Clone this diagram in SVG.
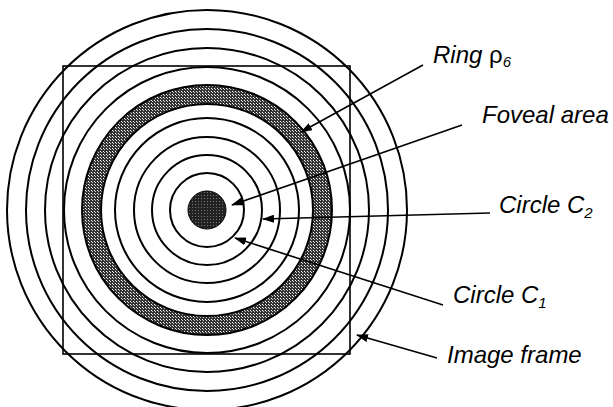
<svg xmlns="http://www.w3.org/2000/svg" width="613" height="407" viewBox="0 0 613 407">
<style>
.ring{fill:none;stroke:#000;stroke-width:2}
.frame{fill:none;stroke:#000;stroke-width:1.6}
.conn{stroke:#000;stroke-width:1.6;fill:none;marker-end:url(#ah)}
.lbl{font-family:"Liberation Sans",Arial,sans-serif;font-style:italic;font-size:24px;fill:#000}
.sub{font-size:15px}
.sym{font-style:normal}
</style>
<defs>
<pattern id="dots" width="3" height="3" patternUnits="userSpaceOnUse">
<rect width="3" height="3" fill="#333"/>
<rect x="1" y="1" width="1" height="1" fill="#fff"/>
<rect x="2" y="2" width="1" height="1" fill="#ccc"/>
</pattern>
<pattern id="dark" width="3" height="3" patternUnits="userSpaceOnUse">
<rect width="3" height="3" fill="#222"/>
<rect width="1" height="1" fill="#777"/>
</pattern>
<marker id="ah" markerWidth="12" markerHeight="8" refX="11" refY="4" orient="auto" markerUnits="userSpaceOnUse">
<path d="M0,0 L12,4 L0,8 Z" fill="#000"/>
</marker>
</defs>
<g id="target">
<circle cx="207" cy="210" r="115.5" fill="none" stroke="url(#dots)" stroke-width="19"/>
<circle cx="207" cy="210" r="19" fill="url(#dark)" stroke="#000" stroke-width="1"/>
<circle class="ring" cx="207" cy="210" r="37"/>
<circle class="ring" cx="207" cy="210" r="55"/>
<circle class="ring" cx="207" cy="210" r="73"/>
<circle class="ring" cx="207" cy="210" r="92"/>
<circle class="ring" cx="207" cy="210" r="106"/>
<circle class="ring" cx="207" cy="210" r="125"/>
<circle class="ring" cx="207" cy="210" r="143"/>
<circle class="ring" cx="207" cy="210" r="162"/>
<circle class="ring" cx="207" cy="210" r="181"/>
<circle class="ring" cx="207" cy="210" r="200"/>
</g>
<g id="image-frame">
<rect class="frame" x="63" y="66" width="287" height="288"/>
</g>
<g id="connectors">
<line class="conn" x1="423" y1="65" x2="301" y2="132"/>
<line class="conn" x1="462" y1="125" x2="232" y2="205"/>
<line class="conn" x1="490" y1="213" x2="263" y2="219"/>
<line class="conn" x1="443" y1="305" x2="235" y2="238"/>
<line class="conn" x1="437" y1="358" x2="357" y2="335"/>
</g>
<g id="label-ring">
<text class="lbl" x="433" y="63">Ring <tspan class="sym">ρ</tspan><tspan class="sub" dy="4">6</tspan></text>
</g>
<g id="label-foveal">
<text class="lbl" x="482" y="123">Foveal area</text>
</g>
<g id="label-c2">
<text class="lbl" x="499" y="213">Circle C<tspan class="sub" dy="5">2</tspan></text>
</g>
<g id="label-c1">
<text class="lbl" x="453" y="303">Circle C<tspan class="sub" dy="5">1</tspan></text>
</g>
<g id="label-frame">
<text class="lbl" x="447" y="363">Image frame</text>
</g>
</svg>
